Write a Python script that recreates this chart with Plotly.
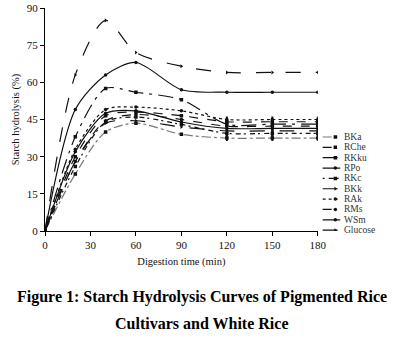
import plotly.graph_objects as go

times = [0, 20, 40, 60, 90, 120, 150, 180]

names = ["BKa", "RChe", "RKku", "RPo", "RKc", "BKk", "RAk", "RMs", "WSm", "Glucose"]
BKa = [0, 23, 40, 43.5, 39, 37.5, 37.5, 37.5]
RChe = [0, 30, 46.5, 48, 46.5, 44.1, 44.1, 44.1]
RKku = [0, 38, 57.5, 56, 53, 43.1, 43.1, 43.1]
RPo = [0, 32, 47.5, 48.5, 44, 41.4, 41.4, 41.4]
RKc = [0, 26, 44, 46, 43, 39.4, 39.4, 39.4]
BKk = [0, 28, 43.5, 44.5, 42, 40.4, 40.4, 40.4]
RAk = [0, 33, 49, 50, 48.5, 45, 45, 45]
RMs = [0, 28, 44.5, 47, 45, 42.3, 42.3, 42.3]
WSm = [0, 49, 63, 68, 57, 56, 56, 56]
Glucose = [0, 63, 85, 72, 66.5, 64, 64, 64]
errs = [0, 0, 0, 0, 0, 1.2, 1.2, 1.2]

series = [BKa, RChe, RKku, RPo, RKc, BKk, RAk, RMs, WSm, Glucose]
dashes = ["dashdot", "dash", "longdashdot", "solid", "2px,4px,5px,3px", "longdash", "dot", "dash", "solid", "longdash"]
colors = ["#777777"] + ["#111111"] * 9
symbols = ["square", "square", "square", "circle", "square", "triangle-right", "circle", "circle", "circle", "triangle-right"]

fig = go.Figure()
for i, (n, v) in enumerate(zip(names, series)):
    ey = dict(type="data", array=errs, visible=True, color="#111111", thickness=2, width=0) if n not in ("WSm", "Glucose") else dict(visible=False)
    fig.add_trace(go.Scatter(
        x=times, y=v, name=n, mode="lines+markers",
        line=dict(color=colors[i], width=1.2, dash=dashes[i], shape="spline", smoothing=0.8),
        marker=dict(color="#111111", size=3.5, symbol=symbols[i]),
        error_y=ey, showlegend=False,
    ))

# manual legend in a side panel (pixel-like coordinates)
leg_y = [137 + 10.35 * k for k in range(len(names))]
annotations = []
for i, n in enumerate(names):
    fig.add_trace(go.Scatter(
        x=[330, 348], y=[leg_y[i], leg_y[i]], mode="lines", xaxis="x2", yaxis="y2",
        line=dict(color=colors[i], width=1.2, dash=dashes[i]), showlegend=False, hoverinfo="skip"))
    fig.add_trace(go.Scatter(
        x=[343], y=[leg_y[i]], mode="markers", xaxis="x2", yaxis="y2",
        marker=dict(color="#111111", size=3.5, symbol=symbols[i]), showlegend=False, hoverinfo="skip"))
    annotations.append(dict(text=n, x=350, y=leg_y[i], xref="x2", yref="y2", xanchor="left",
                            yanchor="middle", showarrow=False,
                            font=dict(size=9.5, family="Liberation Serif", color="#333333")))

annotations += [
    dict(text="<b>Figure 1: Starch Hydrolysis Curves of Pigmented Rice</b>", xref="paper", yref="paper",
         x=0.46, y=(231 - 297) / 223, xanchor="center", yanchor="middle", showarrow=False,
         font=dict(size=16, family="Liberation Serif", color="black")),
    dict(text="<b>Cultivars and White Rice</b>", xref="paper", yref="paper",
         x=0.46, y=(231 - 323) / 223, xanchor="center", yanchor="middle", showarrow=False,
         font=dict(size=16, family="Liberation Serif", color="black")),
]

fig.update_layout(
    width=395, height=341,
    margin=dict(l=45, r=0, t=8, b=110),
    paper_bgcolor="white", plot_bgcolor="white",
    font=dict(family="Liberation Serif", size=11, color="#111111"),
    showlegend=False,
    xaxis=dict(domain=[0, 0.8], range=[0, 180], tickvals=[0, 30, 60, 90, 120, 150, 180], showline=True,
               linecolor="black", linewidth=1, ticks="outside", ticklen=4, tickcolor="black",
               showgrid=False, zeroline=False,
               title=dict(text="Digestion time (min)", font=dict(size=10.5), standoff=7)),
    yaxis=dict(range=[0, 90], tickvals=[0, 15, 30, 45, 60, 75, 90], showline=True, linecolor="black",
               linewidth=1, ticks="outside", ticklen=4, tickcolor="black", showgrid=False, zeroline=False,
               title=dict(text="Starch hydrolysis (%)", font=dict(size=10.5), standoff=5)),
    xaxis2=dict(domain=[0.8, 1.0], range=[325, 395], visible=False, anchor="y2"),
    yaxis2=dict(domain=[0, 1], range=[231, 8], visible=False, anchor="x2"),
    annotations=annotations,
)
fig.write_html("out.html")
